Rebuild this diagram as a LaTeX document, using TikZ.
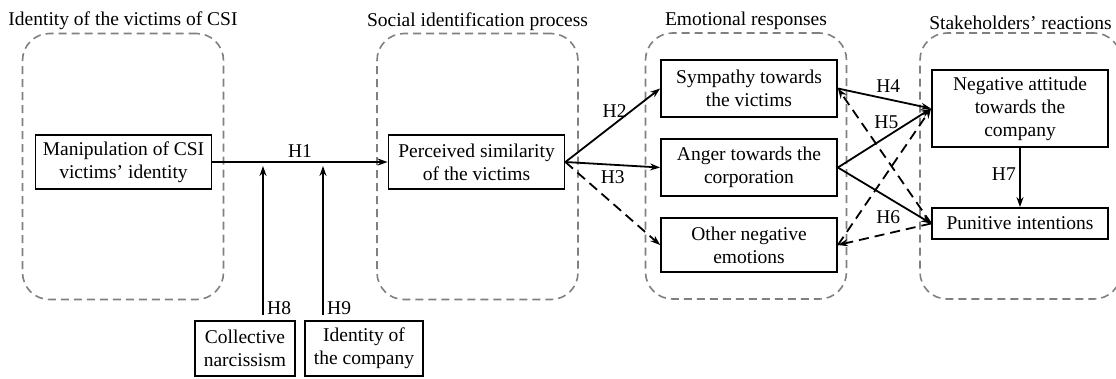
\documentclass[tikz,border=0pt]{standalone}
\usepackage{fontspec}
\setmainfont{Liberation Serif}
\newfontfamily\tnr{Liberation Serif}
\usetikzlibrary{positioning,arrows.meta,calc}

\begin{document}
\begin{tikzpicture}[x=1pt,y=-1pt,
    every node/.style={font=\tnr\fontsize{19.5}{23}\selectfont},
    grp/.style={draw=gray, dash pattern=on 8pt off 5pt, line width=1.6pt,
                rounded corners=27pt, minimum width=201pt, minimum height=266pt},
    box/.style={draw, line width=1.8pt, fill=white, align=center, inner sep=0pt,
                minimum width=176pt},
    arr/.style={-{Stealth[length=10pt,width=7pt]}, line width=1.8pt},
    darr/.style={arr, dash pattern=on 10pt off 6pt}]
    \useasboundingbox (0,0) rectangle (1116,378);

    % dashed groups
    \node[grp, label={[label distance=-1pt]above:Identity of the victims of CSI}] (g1) at (123,166.5) {};
    \node[grp, label={[label distance=-1pt]above:Social identification process}] (g2) at (477.5,166.5) {};
    \node[grp, label={[label distance=-1pt]above:Emotional responses}] (g3) at (746,166) {};
    \node[grp, label={[label distance=-1pt]above:Stakeholders’ reactions}] (g4) at (1020.5,166) {};

    % boxes
    \node[box, minimum height=54pt] (man) at (123.5,162) {Manipulation of CSI\\victims’ identity};
    \node[box, minimum height=54pt] (sim) at (476.5,162) {Perceived similarity\\of the victims};
    \node[box, minimum height=57pt] (sym) at (749,88.5) {Sympathy towards\\the victims};
    \node[box, minimum height=57pt] (ang) at (749,167.5) {Anger towards the\\corporation};
    \node[box, minimum height=54pt] (oth) at (749,245) {Other negative\\emotions};
    \node[box, minimum height=77pt] (att) at (1020,108.5) {Negative attitude\\towards the\\company};
    \node[box, minimum height=31pt] (pun) at (1020,223.5) {Punitive intentions};
    \node[box, minimum width=100pt, minimum height=55pt] (nar) at (245,348.5) {Collective\\narcissism};
    \node[box, minimum width=118pt, minimum height=55pt] (ide) at (364,348.5) {Identity of\\the company};

    % moderators meet H1 here
    \coordinate (h8) at (263,166);
    \coordinate (h9) at (323,166);

    % hypotheses
    \draw[arr] (man) -- node[above] {H1} (sim);
    \draw[arr, shorten <=5pt] (nar.north -| h8) -- node[pos=0.08, right] {H8} (h8);
    \draw[arr, shorten <=5pt] (ide.north -| h9) -- node[pos=0.08, right] {H9} (h9);
    \draw[arr] (sim.east) -- node[pos=0.52, above=2pt] {H2} (sym.west);
    \draw[arr] (sim.east) -- node[pos=0.5, below=2pt] {H3} (ang.west);
    \draw[darr] (sim.east) -- (oth.west);
    \draw[arr] (sym.east) -- node[pos=0.54, above=3pt] {H4} (att.west);
    \draw[arr] (ang.east) -- node[pos=0.52, above=4pt] {H5} (att.west);
    \draw[arr] (ang.east) -- node[pos=0.54, below=9pt] {H6} (pun.west);
    \draw[darr] (pun.west) -- (sym.east);
    \draw[darr] (pun.west) -- (oth.east);
    \draw[darr] (oth.east) -- (att.west);
    \draw[arr] (att.south) -- node[pos=0.45, left] {H7} (pun.north);
\end{tikzpicture}
\end{document}
